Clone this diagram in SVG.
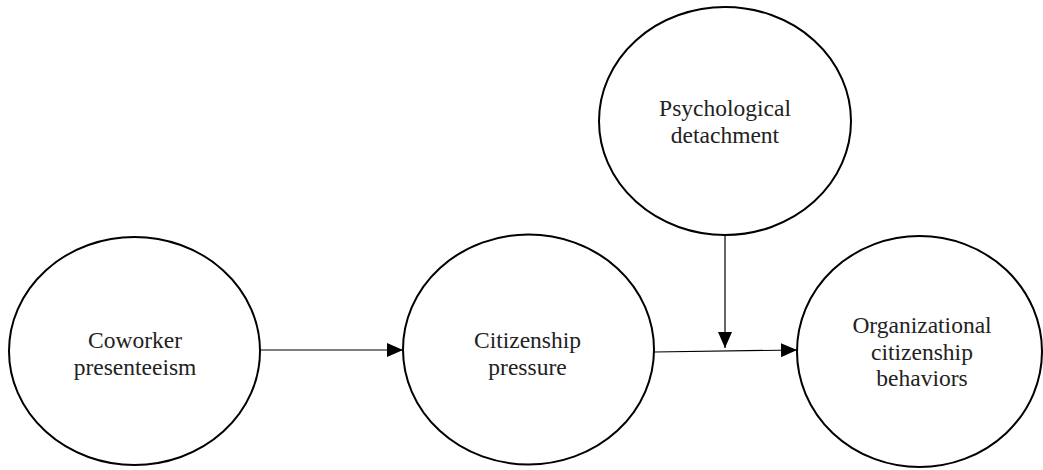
<svg xmlns="http://www.w3.org/2000/svg" width="1043" height="470" viewBox="0 0 1043 470">
<style>
.node ellipse{fill:#fff;stroke:#000;stroke-width:2}
.node text{font-family:"Liberation Serif","Times New Roman",serif;font-size:23.5px;fill:#222;text-anchor:middle}
.edge{stroke:#000;stroke-width:1.2;fill:none}
</style>
<defs>
<marker id="arr" viewBox="0 0 16 14" refX="16" refY="7" markerWidth="16" markerHeight="14" markerUnits="userSpaceOnUse" orient="auto">
<path d="M0,0 L16,7 L0,14 Z" fill="#000"/>
</marker>
</defs>
<rect width="1043" height="470" fill="#fff"/>
<g id="connectors">
<line class="edge" x1="260" y1="350" x2="403" y2="350" marker-end="url(#arr)"/>
<line class="edge" x1="654" y1="352" x2="797" y2="350" marker-end="url(#arr)"/>
<line class="edge" x1="725" y1="235" x2="725" y2="348" marker-end="url(#arr)"/>
</g>
<g id="n1" class="node">
<ellipse cx="134.5" cy="351" rx="125.5" ry="114"/>
<text x="135" y="348">Coworker</text>
<text x="135" y="374.5">presenteeism</text>
</g>
<g id="n2" class="node">
<ellipse cx="528.5" cy="349.5" rx="125.5" ry="115"/>
<text x="527.5" y="347.5">Citizenship</text>
<text x="527.5" y="375">pressure</text>
</g>
<g id="n3" class="node">
<ellipse cx="725" cy="121" rx="126" ry="114"/>
<text x="725" y="116">Psychological</text>
<text x="725" y="143">detachment</text>
</g>
<g id="n4" class="node">
<ellipse cx="919.5" cy="351.5" rx="122.5" ry="115.5"/>
<text x="922" y="333">Organizational</text>
<text x="922" y="360">citizenship</text>
<text x="922" y="386">behaviors</text>
</g>
</svg>
